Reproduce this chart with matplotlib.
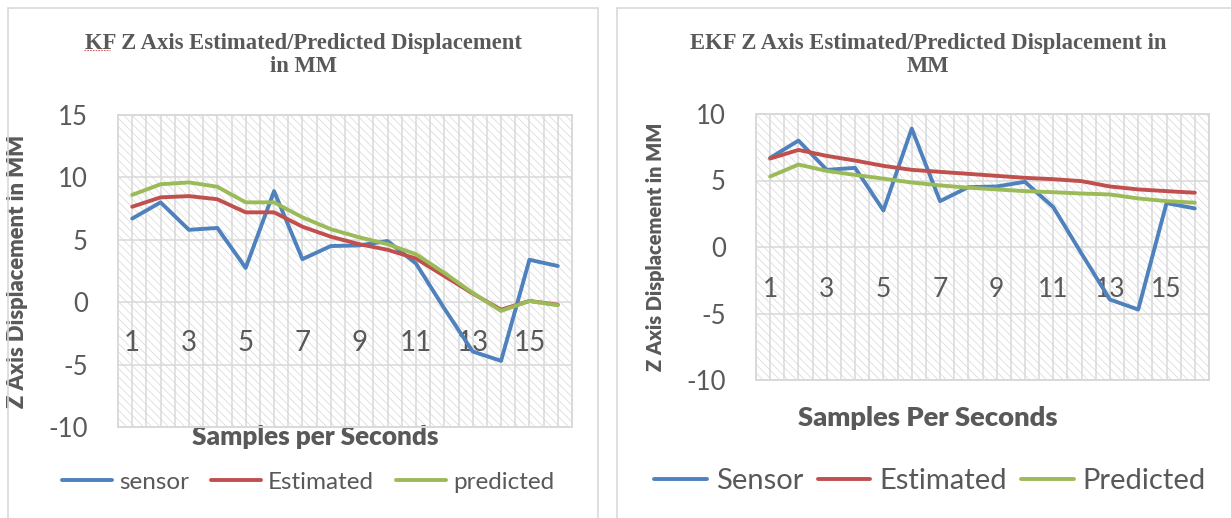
import matplotlib
matplotlib.use("Agg")
import matplotlib.pyplot as plt
from matplotlib.patches import Rectangle
from matplotlib.lines import Line2D

# ---------------- data ----------------
samples = list(range(1, 17))
tick_labels = [str(s) for s in samples]

kf_sensor = [6.7, 8.0, 5.8, 5.95, 2.75, 8.9, 3.45, 4.5, 4.55, 4.9, 3.1, -0.5, -3.95, -4.7, 3.4, 2.9]
kf_estimated = [7.65, 8.4, 8.5, 8.25, 7.2, 7.2, 6.05, 5.25, 4.65, 4.2, 3.5, 2.1, 0.7, -0.6, 0.1, -0.2]
kf_predicted = [8.6, 9.45, 9.6, 9.25, 8.0, 8.0, 6.8, 5.85, 5.2, 4.65, 3.85, 2.35, 0.75, -0.7, 0.1, -0.25]

ekf_sensor = [6.7, 8.0, 5.8, 5.95, 2.75, 8.9, 3.45, 4.5, 4.55, 4.9, 3.0, -0.5, -3.95, -4.7, 3.3, 2.9]
ekf_estimated = [6.65, 7.3, 6.85, 6.5, 6.1, 5.8, 5.65, 5.5, 5.35, 5.2, 5.1, 4.95, 4.55, 4.33, 4.2, 4.08]
ekf_predicted = [5.3, 6.2, 5.72, 5.42, 5.14, 4.85, 4.63, 4.46, 4.33, 4.2, 4.12, 4.02, 3.95, 3.65, 3.45, 3.33]

kf_title = "KF Z Axis Estimated/Predicted Displacement\nin MM"
ekf_title = "EKF Z Axis Estimated/Predicted Displacement in\nMM"
ylabel = "Z Axis Displacement in MM"

BLUE = "#4f81bd"
RED = "#c0504d"
GREEN = "#9bbb59"
TXT = "#595959"
GRID = "#d9d9d9"
HATCH = "#d6d6d6"

plt.rcParams["hatch.linewidth"] = 0.5
SANS = ["Lato", "DejaVu Sans"]
SERIF = ["Liberation Serif", "DejaVu Serif"]

W, H = 1231, 518
fig = plt.figure(figsize=(W / 100, H / 100), dpi=100)
fig.patch.set_facecolor("white")


def fx(px):
    return px / W


def fy(py):
    return 1 - py / H


# chart frames
fig.add_artist(Rectangle((fx(8), fy(530)), fx(590), (530 - 8) / H, transform=fig.transFigure,
                         facecolor="none", edgecolor=GRID, linewidth=1.2))
fig.add_artist(Rectangle((fx(617), fy(530)), fx(640), (530 - 8) / H, transform=fig.transFigure,
                         facecolor="none", edgecolor=GRID, linewidth=1.2))


def make_panel(rect, sensor, est, pred, ylim, yticks, xlab_y, title, title_cx,
               xlabel, xlabel_pos, xlabel_size, ylabel_x, ylabel_size,
               leg_labels, leg_center, leg_size, leg_hl, leg_cs, ticklab_size, xtick_size):
    ax = fig.add_axes(rect)
    ax.set_xlim(0.5, 16.5)
    ax.set_ylim(*ylim)
    ax.set_facecolor("white")
    ax.add_patch(Rectangle((0, 0), 1, 1, transform=ax.transAxes, facecolor="white",
                           edgecolor=HATCH, linewidth=0, hatch="\\\\\\\\", zorder=0))
    ax.set_xticks([0.5 + 0.5 * i for i in range(33)])
    ax.set_yticks(yticks)
    ax.grid(True, color=GRID, linewidth=1.1, zorder=1)
    ax.set_axisbelow(True)
    ax.tick_params(axis="x", length=0, labelbottom=False)
    ax.tick_params(axis="y", length=0, pad=21.6, labelsize=ticklab_size, labelcolor=TXT)
    ax.set_yticklabels([str(v) for v in yticks], fontfamily=SANS)
    for sp in ax.spines.values():
        sp.set_color(GRID)
        sp.set_linewidth(1.4)

    l1, = ax.plot(samples, sensor, color=BLUE, linewidth=2.8, zorder=3, solid_capstyle="round")
    l2, = ax.plot(samples, est, color=RED, linewidth=2.8, zorder=4, solid_capstyle="round")
    l3, = ax.plot(samples, pred, color=GREEN, linewidth=2.8, zorder=5, solid_capstyle="round")

    for i in range(0, 16, 2):
        ax.text(samples[i], xlab_y, tick_labels[i], ha="center", va="center",
                fontsize=xtick_size, color=TXT, family=SANS, zorder=2)

    ax.set_ylabel(ylabel, fontsize=ylabel_size, fontweight="heavy", color=TXT, family=SANS)
    ax.yaxis.set_label_coords(ylabel_x, 0.5)
    ax.set_xlabel(xlabel, fontsize=xlabel_size, fontweight="heavy", color=TXT, family=SANS, va="center")
    ax.xaxis.set_label_coords(*xlabel_pos)

    fig.text(fx(title_cx), fy(55), title, ha="center", va="center", fontsize=16.3,
             fontweight="bold", color=TXT, family=SERIF, linespacing=1.15)

    fig.legend([l1, l2, l3], leg_labels, loc="center", bbox_to_anchor=(fx(leg_center[0]), fy(leg_center[1])),
               ncol=3, frameon=False, handlelength=leg_hl, handletextpad=0.3, columnspacing=leg_cs,
               prop={"family": SANS, "size": leg_size}, labelcolor=TXT)
    return ax


make_panel([fx(118), fy(427), fx(572 - 118), (427 - 115) / H],
           kf_sensor, kf_estimated, kf_predicted, (-10, 15), [-10, -5, 0, 5, 10, 15], -3.3,
           kf_title, 303, "Samples per Seconds", ((315 - 118) / 454, (427 - 437) / 312), 18.8,
           (28 - 118) / 454, 15.8, ["sensor", "Estimated", "predicted"], (308, 482), 17.5, 2.05, 0.9, 18.5, 20)

make_panel([fx(756), fy(380), fx(1209 - 756), (380 - 114) / H],
           ekf_sensor, ekf_estimated, ekf_predicted, (-10, 10), [-10, -5, 0, 5, 10], -3.2,
           ekf_title, 928, "Samples Per Seconds", ((928 - 756) / 453, (380 - 418) / 266), 19.7,
           (665 - 756) / 453, 14.4, ["Sensor", "Estimated", "Predicted"], (930, 481), 21, 1.8, 0.5, 18.5, 19)

# spell-check underline under "KF"
fig.add_artist(Line2D([fx(84), fx(110)], [fy(50), fy(50)], transform=fig.transFigure,
                      color="#e06060", linewidth=0.8, linestyle=(0, (1.5, 1))))

fig.savefig("out.png", dpi=100, facecolor="white")
